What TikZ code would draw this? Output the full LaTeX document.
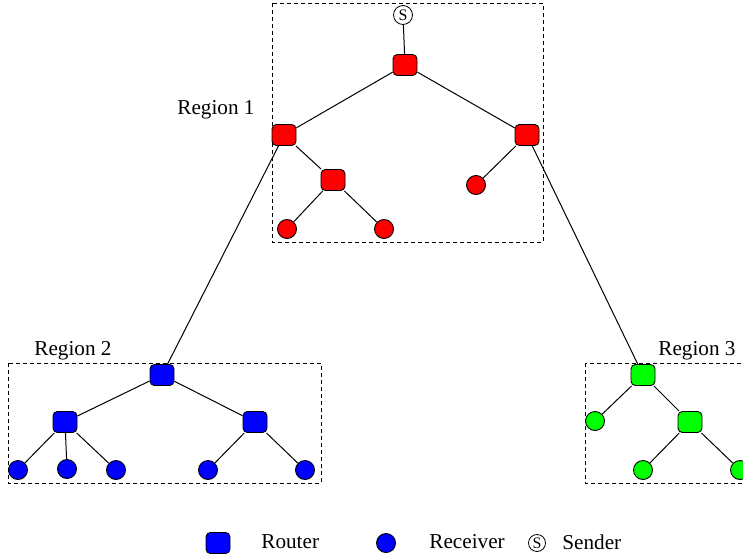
\documentclass[tikz,border=0pt]{standalone}
\usepackage{fontspec}
\setmainfont{Liberation Serif}
\begin{document}
\begin{tikzpicture}[x=0.5pt,y=-0.5pt,
  router/.style={draw,line width=0.45pt,rounded corners=2.2pt,minimum width=12pt,minimum height=10.5pt,inner sep=0pt},
  recv/.style={draw,line width=0.45pt,circle,minimum size=9.5pt,inner sep=0pt},
  sender/.style={draw,line width=0.4pt,circle,minimum size=9.5pt,inner sep=0pt,font=\fontsize{8}{8}\selectfont},
  regionbox/.style={draw,dashed,line width=0.45pt,dash pattern=on 2pt off 1.5pt},
  lbl/.style={font=\fontsize{10.6}{12}\selectfont,inner sep=0pt},
  edge/.style={line width=0.5pt}]
\useasboundingbox (0,0) rectangle (743,556);
\clip (0,0) rectangle (743,556);
% region boxes
\draw[regionbox] (272,3) rectangle (543,242);
\draw[regionbox] (8,363) rectangle (321,483);
\draw[regionbox] (585,363) rectangle (760,483);
% labels
\node[lbl] (l1) at (216,110) {Region 1};
\node[lbl] (l2) at (73,351) {Region 2};
\node[lbl] (l3) at (697,351) {Region 3};
% region 1
\node[sender] (s) at (403,15) {S};
\node[router,fill=red] (r0) at (405,65) {};
\node[router,fill=red] (r1) at (284,135) {};
\node[router,fill=red] (r2) at (527,135) {};
\node[router,fill=red] (r3) at (333,180) {};
\node[recv,fill=red] (c1) at (287,229) {};
\node[recv,fill=red] (c2) at (384,229) {};
\node[recv,fill=red] (c3) at (476,185) {};
\draw[edge] (s) -- (r0);
\draw[edge] (r0) -- (r1);
\draw[edge] (r0) -- (r2);
\draw[edge] (r1) -- (r3);
\draw[edge] (r3) -- (c1);
\draw[edge] (r3) -- (c2);
\draw[edge] (r2) -- (c3);
% region 2
\node[router,fill=blue] (b0) at (162,375) {};
\node[router,fill=blue] (b1) at (65,422) {};
\node[router,fill=blue] (b2) at (255,422) {};
\node[recv,fill=blue] (d1) at (18,470) {};
\node[recv,fill=blue] (d2) at (67,469) {};
\node[recv,fill=blue] (d3) at (116,470) {};
\node[recv,fill=blue] (d4) at (208,470) {};
\node[recv,fill=blue] (d5) at (305,470) {};
\draw[edge] (r1) -- (b0);
\draw[edge] (b0) -- (b1);
\draw[edge] (b0) -- (b2);
\draw[edge] (b1) -- (d1);
\draw[edge] (b1) -- (d2);
\draw[edge] (b1) -- (d3);
\draw[edge] (b2) -- (d4);
\draw[edge] (b2) -- (d5);
% region 3
\node[router,fill=green] (g0) at (643,375) {};
\node[router,fill=green] (g1) at (690,422) {};
\node[recv,fill=green] (e1) at (595,421) {};
\node[recv,fill=green] (e2) at (643,470) {};
\node[recv,fill=green] (e3) at (740,470) {};
\draw[edge] (r2) -- (g0);
\draw[edge] (g0) -- (e1);
\draw[edge] (g0) -- (g1);
\draw[edge] (g1) -- (e2);
\draw[edge] (g1) -- (e3);
% legend
\node[router,fill=blue] (kr) at (218,543) {};
\node[lbl,anchor=west] (kt1) at (261,542) {Router};
\node[recv,fill=blue] (kc) at (386,543) {};
\node[lbl,anchor=west] (kt2) at (429,542) {Receiver};
\node[sender,minimum size=8.5pt] (ks) at (537,543) {S};
\node[lbl,anchor=west] (kt3) at (562,542) {Sender};
\end{tikzpicture}
\end{document}
